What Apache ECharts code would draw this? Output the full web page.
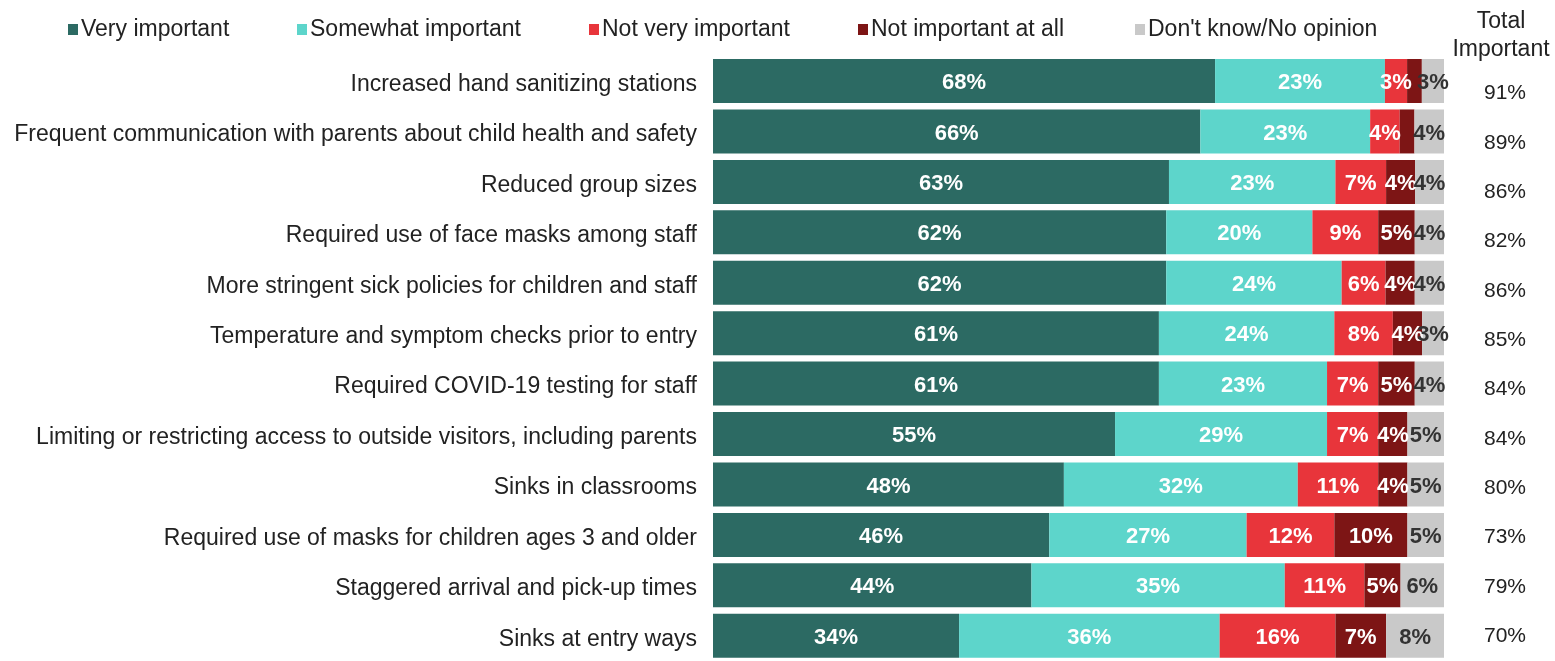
<!DOCTYPE html>
<html>
<head>
<meta charset="utf-8">
<script src="https://cdn.jsdelivr.net/npm/echarts@6/dist/echarts.min.js"></script>
<style>
html,body{margin:0;padding:0;background:#fff;}
#main{width:1555px;height:661px;}
</style>
</head>
<body>
<div id="main"></div>
<script>
const categories = [
  "Increased hand sanitizing stations",
  "Frequent communication with parents about child health and safety",
  "Reduced group sizes",
  "Required use of face masks among staff",
  "More stringent sick policies for children and staff",
  "Temperature and symptom checks prior to entry",
  "Required COVID-19 testing for staff",
  "Limiting or restricting access to outside visitors, including parents",
  "Sinks in classrooms",
  "Required use of masks for children ages 3 and older",
  "Staggered arrival and pick-up times",
  "Sinks at entry ways"
];
const seriesNames = ["Very important", "Somewhat important", "Not very important", "Not important at all", "Don't know/No opinion"];
const veryImportant     = [68, 66, 63, 62, 62, 61, 61, 55, 48, 46, 44, 34];
const somewhatImportant = [23, 23, 23, 20, 24, 24, 23, 29, 32, 27, 35, 36];
const notVeryImportant  = [3, 4, 7, 9, 6, 8, 7, 7, 11, 12, 11, 16];
const notImportantAtAll = [2, 2, 4, 5, 4, 4, 5, 4, 4, 10, 5, 7];
const dontKnow          = [3, 4, 4, 4, 4, 3, 4, 5, 5, 5, 6, 8];
const totalImportant    = [91, 89, 86, 82, 86, 85, 84, 84, 80, 73, 79, 70];

const colors = ["#2C6A63", "#5DD5CB", "#E8353B", "#7D1515", "#C9C9C9"];
const seriesValues = [veryImportant, somewhatImportant, notVeryImportant, notImportantAtAll, dontKnow];
const rowSums = categories.map((c, i) => seriesValues.reduce((s, arr) => s + arr[i], 0));

const FONT = "'Liberation Sans', Arial, sans-serif";
const TEXT = "#222";

const legendLefts = [68, 297, 589, 858, 1135];

const series = seriesNames.map((name, k) => ({
  name: name,
  type: 'bar',
  stack: 'total',
  xAxisIndex: 0,
  yAxisIndex: 0,
  barWidth: 44,
  itemStyle: { color: colors[k] },
  label: {
    show: true,
    position: 'inside',
    offset: [0, 2],
    fontFamily: FONT,
    fontSize: 22,
    fontWeight: 'bold',
    color: k === 4 ? '#333' : '#fff',
    formatter: p => (p.data.raw < 3 ? '' : p.data.raw + '%')
  },
  emphasis: { disabled: true },
  data: seriesValues[k].map((v, i) => ({ value: v * 100 / rowSums[i], raw: v }))
}));

const chart = echarts.init(document.getElementById('main'), null, { renderer: 'canvas' });
chart.setOption({
  animation: false,
  backgroundColor: '#fff',
  textStyle: { fontFamily: FONT },
  title: {
    text: 'Total\nImportant',
    left: 1501,
    top: 8,
    padding: 0,
    textAlign: 'center',
    textStyle: { fontFamily: FONT, fontSize: 23, fontWeight: 'normal', color: TEXT, lineHeight: 28 }
  },
  legend: seriesNames.map((n, k) => ({
    data: [n],
    left: legendLefts[k],
    top: 18,
    padding: 0,
    icon: 'rect',
    itemWidth: 10,
    itemHeight: 11,
    itemGap: 0,
    selectedMode: false,
    textStyle: { fontFamily: FONT, fontSize: 23, color: TEXT, padding: [0, 0, 0, -2] }
  })),
  grid: [
    { left: 713, right: 111, top: 55.8, height: 612.7, containLabel: false },
    { left: 1480, width: 50, top: 68.9, height: 602.4, containLabel: false }
  ],
  xAxis: [
    { type: 'value', gridIndex: 0, min: 0, max: 100, show: false },
    { type: 'value', gridIndex: 1, min: 0, max: 1, show: false }
  ],
  yAxis: [
    {
      type: 'category', gridIndex: 0, inverse: true, data: categories,
      axisLine: { show: false }, axisTick: { show: false }, splitLine: { show: false },
      axisLabel: {
        margin: 16,
        formatter: v => '{c|' + v + '}',
        rich: { c: { fontFamily: FONT, fontSize: 23, color: TEXT, padding: [7, 0, 0, 0] } }
      }
    },
    {
      type: 'category', gridIndex: 1, inverse: true, data: totalImportant.map(v => v + '%'),
      axisLine: { show: false }, axisTick: { show: false }, splitLine: { show: false },
      axisLabel: { margin: -25, align: 'center', fontFamily: FONT, fontSize: 21, color: TEXT }
    }
  ],
  series: series
});
</script>
</body>
</html>
